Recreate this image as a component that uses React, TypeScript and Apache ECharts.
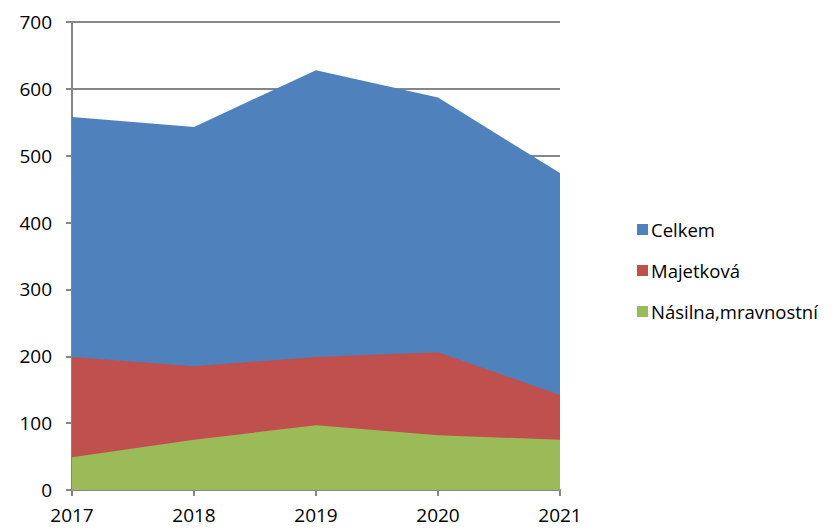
import React, { useEffect, useRef } from "react";
import * as echarts from "echarts";

const years = ["2017", "2018", "2019", "2020", "2021"];
const celkem = [558, 543, 628, 587, 474];
const majetkova = [199, 185, 199, 206, 142];
const nasilna = [49, 75, 97, 82, 75];

export default function App() {
  const ref = useRef<HTMLDivElement>(null);
  useEffect(() => {
    const chart = echarts.init(ref.current!, null, { renderer: "svg" });
    const font = "Open Sans";
    const mk = (name: string, data: number[], color: string) => ({
      name,
      type: "line",
      data,
      symbol: "none",
      lineStyle: { width: 0, color },
      itemStyle: { color },
      areaStyle: { color, opacity: 1 },
      z: 3,
    });
    chart.setOption({
      animation: false,
      backgroundColor: "#fff",
      grid: { left: 72, right: 273, top: 22, bottom: 41, containLabel: false },
      legend: {
        orient: "vertical",
        left: 632,
        top: 215,
        itemWidth: 11,
        itemHeight: 11,
        itemGap: 22,
        icon: "rect",
        textStyle: { fontFamily: font, fontSize: 18.5, color: "#000", padding: [0, 0, 0, -2] },
        data: ["Celkem", "Majetková", "Násilna,mravnostní"],
      },
      xAxis: {
        type: "category",
        data: years,
        boundaryGap: false,
        axisLine: { lineStyle: { color: "#868686", width: 2 } },
        axisTick: { show: true, length: 6, lineStyle: { color: "#868686", width: 2 } },
        axisLabel: { fontFamily: font, fontSize: 19, color: "#000", margin: 15 },
        splitLine: { show: false },
        z: 1,
      },
      yAxis: {
        type: "value",
        min: 0,
        max: 700,
        interval: 100,
        axisLine: { show: true, lineStyle: { color: "#868686", width: 2 } },
        axisTick: { show: true, length: 6, lineStyle: { color: "#868686", width: 2 } },
        axisLabel: { fontFamily: font, fontSize: 19, color: "#000", margin: 20 },
        splitLine: { show: true, lineStyle: { color: "#868686", width: 2 } },
        z: 1,
      },
      series: [
        mk("Celkem", celkem, "#4F81BD"),
        mk("Majetková", majetkova, "#C0504D"),
        mk("Násilna,mravnostní", nasilna, "#9BBB59"),
      ],
    });
    return () => chart.dispose();
  }, []);
  return <div ref={ref} style={{ width: 833, height: 531, margin: -8 }} />;
}
